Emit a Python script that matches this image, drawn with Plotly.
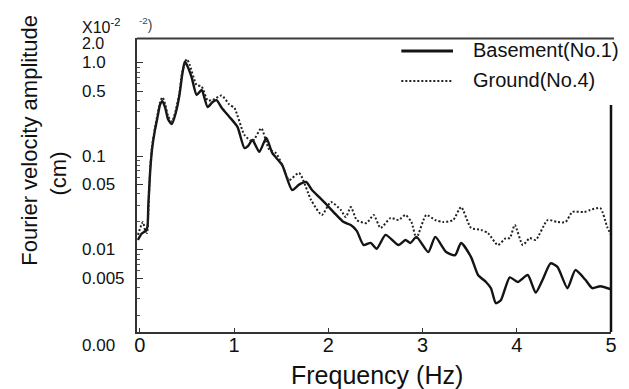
import math
import plotly.graph_objects as go

# Fourier velocity amplitude spectra (cm), x10^-2 scale
freq_basement = [-0.02, 0.02, 0.06, 0.08, 0.09, 0.11, 0.13, 0.16, 0.19, 0.215, 0.24, 0.27, 0.30, 0.34,
                 0.38, 0.42, 0.45, 0.477, 0.50, 0.55, 0.603, 0.656, 0.719, 0.77, 0.814, 0.87, 0.951,
                 1.036, 1.11, 1.15, 1.195, 1.268, 1.342, 1.405, 1.511, 1.616, 1.69, 1.764, 1.827,
                 1.901, 1.985, 2.08, 2.164, 2.239, 2.302, 2.375, 2.45, 2.513, 2.608, 2.745, 2.819,
                 2.872, 2.935, 3.061, 3.135, 3.251, 3.346, 3.409, 3.515, 3.589, 3.673, 3.726, 3.778,
                 3.831, 3.926, 4.011, 4.116, 4.201, 4.274, 4.359, 4.432, 4.538, 4.622, 4.728, 4.801,
                 4.886, 5.0]
amp_basement = [0.0128, 0.0150, 0.0160, 0.0175, 0.030, 0.07, 0.12, 0.19, 0.27, 0.36, 0.39, 0.33, 0.25,
                0.222, 0.29, 0.45, 0.75, 1.03, 0.95, 0.70, 0.455, 0.514, 0.338, 0.38, 0.40, 0.33, 0.265,
                0.207, 0.123, 0.13, 0.150, 0.112, 0.158, 0.109, 0.081, 0.0438, 0.050, 0.0534, 0.0438,
                0.0369, 0.0303, 0.024, 0.0199, 0.0185, 0.016, 0.0113, 0.0119, 0.0103, 0.0145, 0.0113,
                0.0128, 0.0119, 0.0138, 0.0095, 0.0138, 0.0095, 0.0088, 0.0119, 0.0084, 0.0054, 0.00455,
                0.0039, 0.0027, 0.0029, 0.0051, 0.00455, 0.0054, 0.0035, 0.0048, 0.0072, 0.0066, 0.0039,
                0.0061, 0.0048, 0.0039, 0.0041, 0.0038]

freq_ground = [-0.02, 0.02, 0.034, 0.055, 0.076, 0.09, 0.11, 0.13, 0.16, 0.19, 0.215, 0.24, 0.27, 0.30,
               0.34, 0.38, 0.42, 0.45, 0.498, 0.53, 0.603, 0.656, 0.719, 0.77, 0.867, 0.95, 1.004,
               1.11, 1.195, 1.289, 1.37, 1.447, 1.511, 1.584, 1.69, 1.817, 1.932, 2.027, 2.133,
               2.186, 2.239, 2.302, 2.407, 2.481, 2.555, 2.661, 2.745, 2.819, 2.882, 2.935, 3.04,
               3.135, 3.219, 3.325, 3.409, 3.515, 3.62, 3.694, 3.799, 3.884, 3.926, 3.979, 4.064,
               4.137, 4.201, 4.327, 4.432, 4.517, 4.591, 4.717, 4.78, 4.886, 4.96, 5.0]
amp_ground = [0.0145, 0.019, 0.0199, 0.0164, 0.0152, 0.025, 0.075, 0.13, 0.20, 0.29, 0.38, 0.43, 0.36,
              0.27, 0.235, 0.31, 0.48, 0.80, 1.10, 0.95, 0.58, 0.56, 0.40, 0.40, 0.45, 0.36, 0.330,
              0.17, 0.145, 0.20, 0.12, 0.108, 0.081, 0.056, 0.0666, 0.0343, 0.0237, 0.0326, 0.0268,
              0.0225, 0.0288, 0.0209, 0.0194, 0.0237, 0.0172, 0.0220, 0.0209, 0.0237, 0.0199, 0.0134,
              0.0237, 0.0209, 0.0199, 0.0209, 0.0288, 0.0172, 0.0164, 0.0152, 0.0113, 0.0134, 0.0134,
              0.0185, 0.0113, 0.0134, 0.0128, 0.0209, 0.0199, 0.0199, 0.0255, 0.0255, 0.0268, 0.0281,
              0.0176, 0.0145]

x_ticks = [0, 1, 2, 3, 4, 5]
y_tick_vals = [1.0, 0.5, 0.1, 0.05, 0.01, 0.005]
y_tick_text = ["1.0", "0.5", "0.1", "0.05", "0.01", "0.005"]
y_minor_vals = [m * 10 ** d for d in (-3, -2, -1) for m in range(2, 10)]

FONT = "Arial, Liberation Sans, sans-serif"
W, H = 629, 389
L, R, T, B = 137, 15, 38, 57


def px_x(px):
    return (px - L) / (W - L - R)


def px_y(py):
    return (H - B - py) / (H - T - B)


fig = go.Figure()
fig.add_trace(go.Scatter(
    x=freq_basement, y=amp_basement, mode="lines", name="Basement(No.1)",
    line=dict(color="#141414", width=2.4, shape="spline", smoothing=0.6),
    showlegend=False,
))
fig.add_trace(go.Scatter(
    x=freq_ground, y=amp_ground, mode="lines", name="Ground(No.4)",
    line=dict(color="#222222", width=2, dash="2px,2px", shape="spline", smoothing=0.6),
    showlegend=False,
))

annotations = []
# y tick labels, left aligned
for v, t in zip(y_tick_vals, y_tick_text):
    annotations.append(dict(x=px_x(80), xref="paper", y=math.log10(v), yref="y", text=t,
                            xanchor="left", yanchor="middle", showarrow=False,
                            font=dict(family=FONT, size=17, color="#111")))
annotations += [
    dict(x=px_x(80), xref="paper", y=px_y(43), yref="paper", text="2.0", xanchor="left",
         yanchor="middle", showarrow=False, font=dict(family=FONT, size=16, color="#111")),
    dict(x=px_x(80), xref="paper", y=px_y(345), yref="paper", text="0.00", xanchor="left",
         yanchor="middle", showarrow=False, font=dict(family=FONT, size=17, color="#111")),
    dict(x=px_x(80), xref="paper", y=px_y(26), yref="paper", text="X10<sup>-2</sup>",
         xanchor="left", yanchor="middle", showarrow=False,
         font=dict(family=FONT, size=16, color="#111")),
    dict(x=px_x(137), xref="paper", y=px_y(24), yref="paper", text="<sup>-2</sup>)",
         xanchor="left", yanchor="middle", showarrow=False,
         font=dict(family=FONT, size=14, color="#444")),
    # axis titles
    dict(x=px_x(28), xref="paper", y=px_y(140), yref="paper", text="Fourier velocity amplitude",
         textangle=-90, xanchor="center", yanchor="middle", showarrow=False,
         font=dict(family=FONT, size=22, color="#111")),
    dict(x=px_x(57), xref="paper", y=px_y(174), yref="paper", text="(cm)",
         textangle=-90, xanchor="center", yanchor="middle", showarrow=False,
         font=dict(family=FONT, size=22, color="#111")),
    dict(x=px_x(379), xref="paper", y=px_y(375), yref="paper", text="Frequency (Hz)",
         xanchor="center", yanchor="middle", showarrow=False,
         font=dict(family=FONT, size=25, color="#111")),
    # legend text
    dict(x=px_x(473), xref="paper", y=px_y(50), yref="paper", text="Basement(No.1)",
         xanchor="left", yanchor="middle", showarrow=False,
         font=dict(family=FONT, size=20, color="#111")),
    dict(x=px_x(473), xref="paper", y=px_y(80), yref="paper", text="Ground(No.4)",
         xanchor="left", yanchor="middle", showarrow=False,
         font=dict(family=FONT, size=20, color="#111")),
]

shapes = [
    # legend samples
    dict(type="line", xref="paper", yref="paper", x0=px_x(403), x1=px_x(455),
         y0=px_y(51), y1=px_y(51), line=dict(color="#141414", width=3)),
    dict(type="line", xref="paper", yref="paper", x0=px_x(403), x1=px_x(455),
         y0=px_y(81), y1=px_y(81), line=dict(color="#222", width=2, dash="2px,2px")),
    # frame: top edge and partial right edge
    dict(type="path", xref="paper", yref="paper", layer="above",
         path=f"M 0 {px_y(38.5)} L {px_x(617)} {px_y(38.5)}",
         line=dict(color="#3a3a3a", width=2)),
    dict(type="line", xref="paper", yref="paper", x0=px_x(614), x1=px_x(614), y0=0,
         y1=px_y(105), line=dict(color="#111", width=2.5)),
]

fig.update_layout(
    width=W, height=H,
    margin=dict(l=L, r=R, t=T, b=B),
    paper_bgcolor="white", plot_bgcolor="white",
    showlegend=False,
    annotations=annotations,
    shapes=shapes,
    xaxis=dict(
        range=[-0.03, 5.0], tickvals=x_ticks, ticktext=[str(v) for v in x_ticks],
        showgrid=False, zeroline=False, showline=True, linecolor="#333", linewidth=2,
        ticks="inside", ticklen=4, tickcolor="#333", ticklabelstandoff=-6,
        tickfont=dict(family=FONT, size=20, color="#111"),
    ),
    xaxis2=dict(
        overlaying="x", side="top", range=[-0.03, 5.0], showticklabels=False,
        showgrid=False, zeroline=False, showline=True, linecolor="#3a3a3a", linewidth=2,
        ticks="",
    ),
    yaxis=dict(
        type="log", range=[-2.877, 0.267], tickvals=y_tick_vals, showticklabels=False,
        showgrid=False, zeroline=False, showline=True, linecolor="#333", linewidth=2,
        ticks="inside", ticklen=6, tickcolor="#333",
        minor=dict(tickvals=y_minor_vals, ticks="inside", ticklen=3, tickcolor="#555",
                   showgrid=False),
    ),
)

fig.write_html("out.html")
